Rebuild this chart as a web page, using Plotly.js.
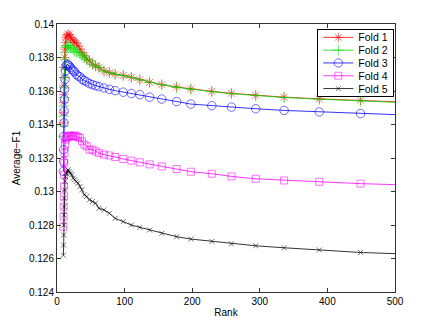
<!DOCTYPE html>
<html>
<head>
<meta charset="utf-8">
<script src="https://cdn.plot.ly/plotly-3.0.1.min.js"></script>
<style>
  html, body { margin: 0; padding: 0; background: #fff; }
  #chart { width: 436px; height: 328px; }
</style>
</head>
<body>
<div id="chart"></div>
<script>
// rank values where the folds were evaluated
let rank = [9.5, 9.7, 9.9, 10.1, 10.3, 10.5, 10.8, 11.2, 11.8, 12.5,
  13.5, 15, 16.5, 18, 20, 22, 24, 26, 28.5, 31,
  34, 37, 40.5, 44, 48, 52.5, 57, 62, 69.5, 77.5,
  86, 98, 110, 122.5, 137, 155, 177, 198, 229, 258,
  294, 336, 388, 449, 500]

let fold1 = [0.1341, 0.1347, 0.1353, 0.1358, 0.1363, 0.1368, 0.1374, 0.1380, 0.1385, 0.1389,
  0.1392, 0.1393, 0.1394, 0.13935, 0.1392, 0.1391, 0.1390, 0.1389, 0.13885, 0.1387,
  0.1385, 0.1383, 0.1381, 0.1379, 0.1378, 0.1376, 0.1375, 0.1374, 0.1372, 0.1371,
  0.1370, 0.13693, 0.13681, 0.13667, 0.13652, 0.13638, 0.13624, 0.13612, 0.13598, 0.13586,
  0.13574, 0.13563, 0.13553, 0.13545, 0.13536]

let fold2 = [0.1333, 0.1339, 0.1345, 0.1351, 0.1356, 0.1362, 0.1368, 0.1374, 0.1379, 0.1383,
  0.1386, 0.1387, 0.13872, 0.1387, 0.1386, 0.13855, 0.1385, 0.1384, 0.13835, 0.1383,
  0.1382, 0.1381, 0.1380, 0.1379, 0.1378, 0.1376, 0.1375, 0.1374, 0.1372, 0.1371,
  0.1370, 0.13692, 0.1368, 0.13666, 0.13651, 0.13637, 0.13622, 0.1361, 0.13596, 0.13584,
  0.13572, 0.13561, 0.13551, 0.13542, 0.13532]

let fold3 = [0.1312, 0.1318, 0.1325, 0.1333, 0.1341, 0.1348, 0.1355, 0.1361, 0.1367, 0.1372,
  0.1375, 0.1376, 0.13755, 0.1375, 0.1374, 0.1373, 0.1372, 0.13715, 0.1370, 0.1369,
  0.13685, 0.1367, 0.13662, 0.13655, 0.13644, 0.13638, 0.13632, 0.13626, 0.13618, 0.1361,
  0.13602, 0.13593, 0.13585, 0.13578, 0.13563, 0.13552, 0.13537, 0.13522, 0.13512, 0.13504,
  0.13494, 0.13484, 0.13475, 0.13465, 0.13459]

let fold4 = [0.1279, 0.1285, 0.1291, 0.1297, 0.1303, 0.1310, 0.1317, 0.1323, 0.1328, 0.1331,
  0.1332, 0.13325, 0.1333, 0.1333, 0.13335, 0.1333, 0.1333, 0.13335, 0.1333, 0.13325,
  0.1332, 0.1330, 0.1328, 0.1327, 0.1325, 0.1325, 0.1324, 0.1323, 0.1322, 0.13215,
  0.13206, 0.13194, 0.13184, 0.13174, 0.13162, 0.1315, 0.13134, 0.13118, 0.13106, 0.1309,
  0.13076, 0.13066, 0.13058, 0.13047, 0.13041]

let fold5 = [0.1262, 0.1268, 0.1274, 0.1280, 0.1286, 0.1291, 0.1296, 0.1301, 0.1306, 0.1309,
  0.1311, 0.1312, 0.1313, 0.1312, 0.1311, 0.1310, 0.1308, 0.1307, 0.1306, 0.1305,
  0.1303, 0.1301, 0.1298, 0.1297, 0.1295, 0.1294, 0.1293, 0.1290, 0.1289, 0.1287,
  0.1284, 0.1282, 0.1280, 0.12786, 0.1277, 0.1275, 0.1273, 0.12716, 0.12702, 0.12688,
  0.12676, 0.12664, 0.12651, 0.12636, 0.12629]

let fold_names = ['Fold 1', 'Fold 2', 'Fold 3', 'Fold 4', 'Fold 5']

let x_ticks = [0, 100, 200, 300, 400, 500]
let y_ticks = [0.124, 0.126, 0.128, 0.13, 0.132, 0.134, 0.136, 0.138, 0.14]
let y_tick_text = ['0.124', '0.126', '0.128', '0.13', '0.132', '0.134', '0.136', '0.138', '0.14']


// Plotting ---------------
let styles = [
  {color: '#ff0000', symbol: 'asterisk-open', size: 8},
  {color: '#00e000', symbol: 'cross-thin-open', size: 8},
  {color: '#0000ff', symbol: 'circle-open', size: 8.5},
  {color: '#ff00ff', symbol: 'square-open', size: 7},
  {color: '#000000', symbol: 'x-thin-open', size: 5}
]

let folds = [fold1, fold2, fold3, fold4, fold5]

// the last point (rank 500) is drawn without a marker
let data = folds.map(function(ys, i) {
  let s = styles[i]
  return {
    x: rank,
    y: ys,
    name: fold_names[i],
    mode: 'lines+markers',
    type: 'scatter',
    line: {color: s.color, width: 0.8},
    marker: {
      symbol: s.symbol,
      size: rank.map(r => r < 500 ? s.size : 0),
      color: s.color,
      line: {color: s.color, width: 0.8}
    }
  }
})

let axis_font = {family: 'Liberation Sans, Arial, sans-serif', size: 10, color: '#000'}

let layout = {
  width: 436,
  height: 328,
  margin: {l: 57, r: 41, t: 24, b: 36},
  paper_bgcolor: '#fff',
  plot_bgcolor: '#fff',
  font: axis_font,
  showlegend: true,
  legend: {
    x: 0.998, xanchor: 'right', y: 0.98, yanchor: 'top',
    bgcolor: '#fff',
    bordercolor: '#000',
    borderwidth: 1,
    font: {family: 'Liberation Sans, Arial, sans-serif', size: 10.5, color: '#000'},
    itemwidth: 30,
    tracegroupgap: 0
  },
  xaxis: {
    range: [0, 500],
    tickvals: x_ticks,
    ticks: 'inside',
    ticklen: 4,
    tickcolor: '#333',
    showline: true,
    linecolor: '#333',
    linewidth: 1,
    mirror: 'ticks',
    showgrid: false,
    zeroline: false,
    tickfont: axis_font,
    title: {text: 'Rank', font: axis_font, standoff: 2}
  },
  yaxis: {
    range: [0.124, 0.14],
    tickvals: y_ticks,
    ticktext: y_tick_text,
    ticks: 'inside',
    ticklen: 4,
    tickcolor: '#333',
    showline: true,
    linecolor: '#333',
    linewidth: 1,
    mirror: 'ticks',
    showgrid: false,
    zeroline: false,
    tickfont: axis_font,
    title: {text: 'Average\u2212F1', font: axis_font, standoff: 6}
  }
}

// plotly won't pack legend rows tighter than ~19px, the original uses ~13px
let tighten_legend = function() {
  let row_gap = 12.8
  let first_row = 8
  let items = document.querySelectorAll('.legend .traces')
  items.forEach(function(g, i) {
    let m = /translate\(([-\d.]+)/.exec(g.getAttribute('transform') || '')
    let tx = m ? m[1] : 0
    g.setAttribute('transform', 'translate(' + tx + ',' + (first_row + i*row_gap) + ')')
  })
  let bg = document.querySelector('.legend rect.bg')
  if(bg) bg.setAttribute('height', first_row*2 + (items.length - 1)*row_gap - 1)
}

Plotly.newPlot('chart', data, layout, {staticPlot: true}).then(tighten_legend)
</script>
</body>
</html>
